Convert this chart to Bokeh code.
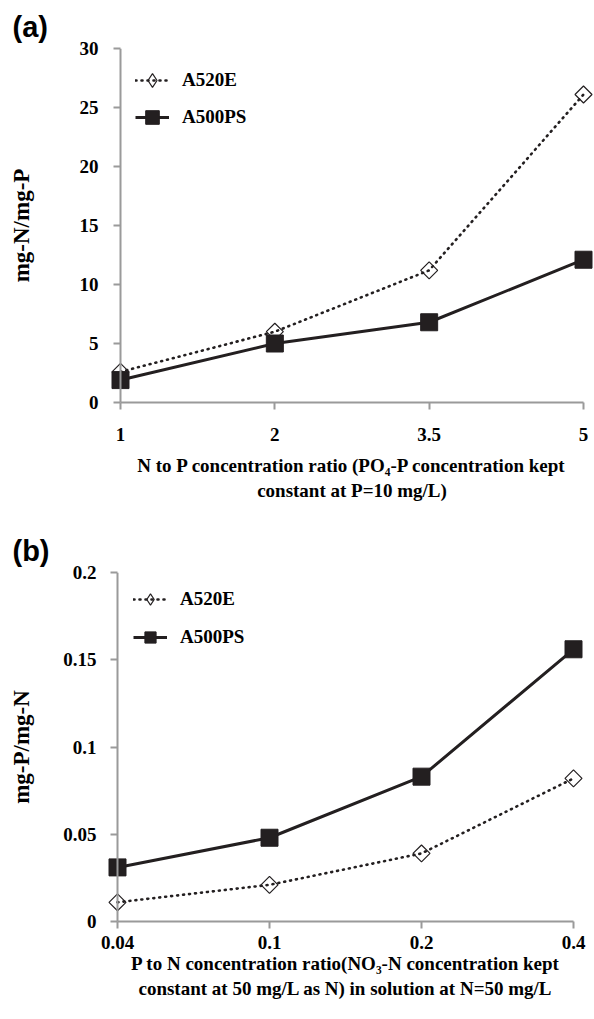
import numpy as np
from bokeh.plotting import figure
from bokeh.models import Range1d, FixedTicker, Legend, LegendItem, Span
from bokeh.layouts import column
from bokeh.embed import file_html
from bokeh.resources import INLINE

# ---------------- data ----------------
series_names = ["A520E", "A500PS"]

x_labels_a = ["1", "2", "3.5", "5"]
a520e_a = [2.6, 6.0, 11.2, 26.1]
a500ps_a = [1.9, 5.0, 6.8, 12.1]
y_ticks_a = [0, 5, 10, 15, 20, 25, 30]
y_tick_labels_a = ["0", "5", "10", "15", "20", "25", "30"]

x_labels_b = ["0.04", "0.1", "0.2", "0.4"]
a520e_b = [0.011, 0.021, 0.039, 0.082]
a500ps_b = [0.031, 0.048, 0.083, 0.156]
y_ticks_b = [0, 0.05, 0.1, 0.15, 0.2]
y_tick_labels_b = ["0", "0.05", "0.1", "0.15", "0.2"]

title_a = "N to P concentration ratio (PO\u2084-P concentration kept\nconstant at P=10 mg/L)"
title_b = ("P to N concentration ratio(NO\u2083-N concentration kept\n"
           "constant at 50 mg/L as N) in solution at N=50 mg/L")

SERIF = "Liberation Serif"
SANS = "Liberation Sans"
INK = "#231f20"
AXIS = "#9a9a9a"
EDGE_PAD = 10  # px of room so end markers are not clipped


def make_panel(width, height, axis_left, axis_right, top, bottom, x_labels,
               s1, s2, y_ticks, y_tick_labels, y_max, panel_tag, y_title,
               x_title, ytick_standoff, ylab_standoff, xtick_standoff,
               xlab_standoff, leg_x, leg_top, leg_h, leg_spacing):
    n = len(x_labels) - 1
    span_px = axis_right - axis_left
    pad_u = n * EDGE_PAD / span_px
    frame_left = axis_left - EDGE_PAD
    frame_right = axis_right + EDGE_PAD
    frame_h = height - top - bottom
    p = figure(width=width, height=height, output_backend="svg",
               toolbar_location=None, min_border_left=frame_left,
               min_border_right=width - frame_right, min_border_top=top,
               min_border_bottom=bottom,
               x_range=Range1d(-pad_u, n + pad_u),
               y_range=Range1d(0, y_max))
    try:
        p.frame_align = False
    except Exception:
        pass
    p.outline_line_color = None
    p.xgrid.visible = False
    p.ygrid.visible = False

    # y axis line drawn at the first category
    p.add_layout(Span(location=0, dimension="height", line_color=AXIS,
                      line_width=2))

    xs = list(range(len(x_labels)))
    # A520E: dotted line, open diamonds
    r1l = p.line(xs, s1, line_color=INK, line_width=2.6, line_dash="1 5",
                 line_cap="round")
    p.scatter(xs, s1, marker="square", angle=np.pi / 4, size=12,
              line_color=INK, line_width=1.2, fill_color=None)
    r1leg = p.scatter(xs, s1, marker="diamond", line_color=INK,
                      line_width=1.2, fill_color=None, visible=False)
    # A500PS: solid line, filled squares
    r2l = p.line(xs, s2, line_color=INK, line_width=3)
    r2m = p.scatter(xs, s2, marker="square", size=17, line_color=INK,
                    fill_color=INK)

    for ax in (p.xaxis[0], p.yaxis[0]):
        ax.axis_line_color = AXIS
        ax.axis_line_width = 2
        ax.major_tick_line_color = AXIS
        ax.major_tick_line_width = 2
        ax.major_tick_in = 0
        ax.major_tick_out = 7
        ax.minor_tick_line_color = None
        ax.major_label_text_font = SERIF
        ax.major_label_text_font_style = "bold"
        ax.major_label_text_font_size = "19px"
        ax.major_label_text_color = "black"
        ax.axis_label_text_font = SERIF
        ax.axis_label_text_font_style = "bold"
        ax.axis_label_text_color = "black"

    p.xaxis.ticker = FixedTicker(ticks=xs)
    p.xaxis.bounds = (0, n)
    p.xaxis.major_label_overrides = {i: lab for i, lab in enumerate(x_labels)}
    p.xaxis.major_label_standoff = xtick_standoff
    p.xaxis.axis_label = x_title
    p.xaxis.axis_label_text_font_size = "19px"
    p.xaxis.axis_label_standoff = xlab_standoff
    p.xaxis.axis_label_text_line_height = 1.2

    # the y axis sits at the frame edge; its ticks reach in to the Span
    p.yaxis.axis_line_color = None
    p.yaxis.major_tick_out = 7 - EDGE_PAD
    p.yaxis.major_tick_in = EDGE_PAD
    p.yaxis.ticker = FixedTicker(ticks=y_ticks)
    p.yaxis.major_label_overrides = {t: lab for t, lab in zip(y_ticks, y_tick_labels)}
    p.yaxis.major_label_standoff = ytick_standoff
    p.yaxis.axis_label = y_title
    p.yaxis.axis_label_text_font_size = "23px"
    p.yaxis.axis_label_standoff = ylab_standoff

    legend_h = 2 * leg_h + leg_spacing
    legend = Legend(items=[LegendItem(label=series_names[0], renderers=[r1l, r1leg]),
                           LegendItem(label=series_names[1], renderers=[r2l, r2m])],
                    location=(EDGE_PAD + leg_x, frame_h - leg_top - legend_h),
                    border_line_color=None,
                    background_fill_alpha=0, glyph_width=34, glyph_height=leg_h,
                    label_height=leg_h, spacing=leg_spacing, padding=0,
                    margin=0, label_standoff=13,
                    label_text_font=SERIF, label_text_font_style="bold",
                    label_text_font_size="19px", label_text_color="black")
    p.add_layout(legend)

    p.title.text = panel_tag
    p.title.align = "left"
    p.title.offset = -(frame_left - 12)
    p.title.text_font = SANS
    p.title.text_font_style = "bold"
    p.title.text_font_size = "29px"
    p.title.text_color = "black"
    p.title.standoff = 12
    return p


pa = make_panel(594, 510, 120, 583, 48, 108, x_labels_a, a520e_a, a500ps_a,
                y_ticks_a, y_tick_labels_a, 30, "(a)", "mg-N/mg-P", title_a,
                ytick_standoff=12, ylab_standoff=43, xtick_standoff=18,
                xlab_standoff=11, leg_x=15, leg_top=15, leg_h=34,
                leg_spacing=3)

pb = make_panel(594, 509, 117, 573, 62, 98, x_labels_b, a520e_b, a500ps_b,
                y_ticks_b, y_tick_labels_b, 0.2, "(b)", "mg-P/mg-N", title_b,
                ytick_standoff=11, ylab_standoff=26, xtick_standoff=7,
                xlab_standoff=1, leg_x=16, leg_top=13, leg_h=28,
                leg_spacing=10)

layout = column(pa, pb, spacing=0)
open("out.html", "w").write(file_html(layout, INLINE))
